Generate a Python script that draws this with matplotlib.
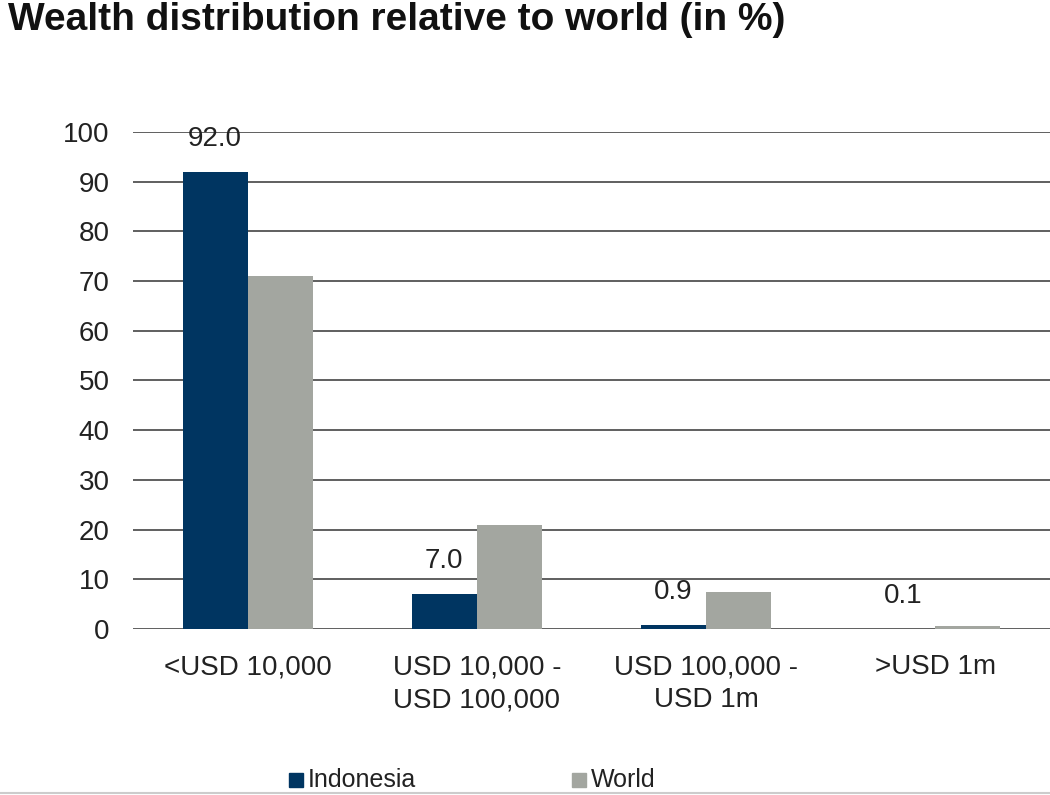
import matplotlib
matplotlib.use("Agg")
import matplotlib.pyplot as plt
import numpy as np

categories = ["<USD 10,000", "USD 10,000 -\nUSD 100,000", "USD 100,000 -\nUSD 1m", ">USD 1m"]
indonesia = [92.0, 7.0, 0.9, 0.1]
world = [71.0, 21.0, 7.4, 0.6]
yticks = [0, 10, 20, 30, 40, 50, 60, 70, 80, 90, 100]

plt.rcParams['font.family'] = ['Liberation Sans', 'DejaVu Sans']

fig = plt.figure(figsize=(10.5, 7.95), dpi=100)
ax = fig.add_axes([0.1267, 0.2088, 0.8733, 0.6252])

x = np.arange(len(categories))
w = 0.284
c_ind = "#003561"
c_wld = "#a3a6a0"
b1 = ax.bar(x - w/2, indonesia, width=w, color=c_ind, zorder=3, label="Indonesia")
b2 = ax.bar(x + w/2, world, width=w, color=c_wld, zorder=3, label="World")

for xi, v in zip(x, indonesia):
    ax.annotate(f"{v:.1f}", (xi - w/2, v), xytext=(0, 33), textcoords="offset pixels",
                ha="center", va="center", fontsize=20, color="#222222", zorder=4)

ax.set_xlim(-0.5, 3.5)
ax.set_ylim(0, 100)
ax.set_yticks(yticks)
ax.set_yticklabels([str(t) for t in yticks], fontsize=20, color="#222222")
ax.set_xticks(x)
ax.set_xticklabels(categories, fontsize=20, color="#222222", linespacing=1.35)
ax.tick_params(axis="both", length=0)
ax.tick_params(axis="y", pad=17)
ax.tick_params(axis="x", pad=18)
ax.yaxis.grid(True, color="#444444", linewidth=1.2, zorder=0)
for s in ax.spines.values():
    s.set_visible(False)

fig.text(0.008, 0.997, "Wealth distribution relative to world (in %)", fontsize=28,
         fontweight="bold", ha="left", va="top", color="#111111")

# legend
fig.patches.append(plt.Rectangle((289/1050, 1 - 787/795), 14/1050, 14/795,
                                 transform=fig.transFigure, color=c_ind))
fig.text(308/1050, 1 - 780/795, "Indonesia", fontsize=18, va="center", ha="left", color="#222222")
fig.patches.append(plt.Rectangle((572/1050, 1 - 787/795), 14/1050, 14/795,
                                 transform=fig.transFigure, color=c_wld))
fig.text(591/1050, 1 - 780/795, "World", fontsize=18, va="center", ha="left", color="#222222")

fig.add_artist(plt.Line2D([0, 1], [1 - 793/795, 1 - 793/795], transform=fig.transFigure,
                          color="#cccccc", linewidth=1.5))

fig.savefig("out.png", dpi=100)
